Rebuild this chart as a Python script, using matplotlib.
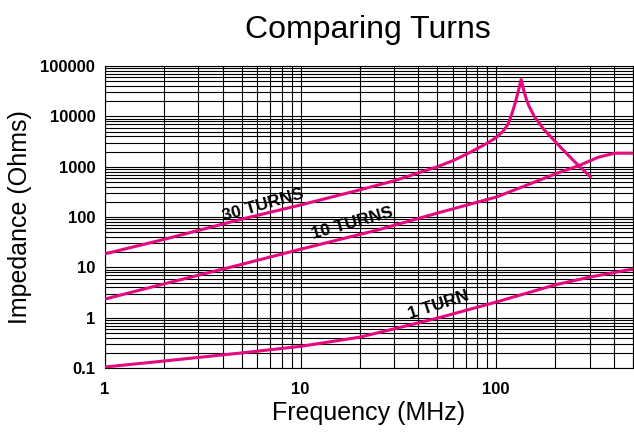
import numpy as np
import matplotlib.pyplot as plt
from matplotlib.ticker import FixedLocator, LogLocator, NullFormatter

plt.rcParams['font.family'] = ['Liberation Sans', 'DejaVu Sans']

# impedance curves (frequency in MHz, impedance in ohms)
f_30 = [1, 2, 5, 10, 20, 30, 50, 60, 70, 80, 90, 100, 108, 115, 120, 125,
        130, 134, 138, 142, 147, 157, 176, 208, 252, 303]
z_30 = [18.6, 36, 91, 174, 346, 525, 1000, 1320, 1750, 2300, 2950, 3800,
        5000, 7000, 11000, 18600, 33000, 54000, 34000, 23000, 16000, 9800,
        5400, 2700, 1250, 630]

f_10 = [1, 2, 5, 10, 20, 25, 50, 100, 170, 200, 264, 333, 403, 500]
z_10 = [2.35, 4.7, 11.5, 23, 45, 56, 120, 250, 560, 720, 1050, 1550, 1860, 1860]

f_1 = [1, 2, 5, 10, 20, 30, 50, 100, 200, 300, 500]
z_1 = [0.105, 0.138, 0.2, 0.27, 0.41, 0.6, 0.98, 2.05, 4.5, 6.4, 9.3]

curve_labels = ['30 TURNS', '10 TURNS', '1 TURN']
label_f = [6.4, 18.3, 50.5]
label_z = [174, 76, 1.75]
label_rot = [16, 15.6, 18]

x_ticks = [1, 10, 100]
y_ticks = [0.1, 1, 10, 100, 1000, 10000, 100000]

pink = '#E5097F'

fig = plt.figure(figsize=(6.34, 4.32), dpi=100)
ax = fig.add_axes([0.1656, 0.148, 0.8328, 0.699])

for f, z in [(f_30, z_30), (f_10, z_10), (f_1, z_1)]:
    ax.plot(f, z, color=pink, lw=2.2, solid_joinstyle='round', zorder=3)

for txt, fx, zy, rot in zip(curve_labels, label_f, label_z, label_rot):
    ax.text(fx, zy, txt, rotation=rot, rotation_mode='anchor',
            ha='center', va='center', fontsize=12.5, fontweight='bold', zorder=4)

ax.set_xscale('log')
ax.set_yscale('log')
ax.set_xlim(1, 500)
ax.set_ylim(0.1, 100000)

ax.xaxis.set_major_locator(FixedLocator(x_ticks))
ax.yaxis.set_major_locator(FixedLocator(y_ticks))
ax.set_xticklabels([str(v) for v in x_ticks])
ax.set_yticklabels(['0.1'] + [str(int(v)) for v in y_ticks[1:]])
ax.xaxis.set_minor_locator(LogLocator(base=10, subs=np.arange(2, 10), numticks=20))
ax.yaxis.set_minor_locator(LogLocator(base=10, subs=np.arange(2, 10), numticks=20))
ax.xaxis.set_minor_formatter(NullFormatter())
ax.yaxis.set_minor_formatter(NullFormatter())

ax.grid(True, which='both', color='black', lw=0.8)
ax.tick_params(which='both', length=0)
ax.tick_params(axis='x', pad=10, labelsize=12)
ax.tick_params(axis='y', pad=7, labelsize=12)
for lab in ax.get_xticklabels() + ax.get_yticklabels():
    lab.set_fontweight('bold')
for s in ax.spines.values():
    s.set_color('black')
    s.set_linewidth(0.8)

ax.set_xlabel('Frequency (MHz)', fontsize=18, labelpad=3)
ax.set_ylabel('Impedance (Ohms)', fontsize=18, labelpad=6)
fig.text(0.58, 0.93, 'Comparing Turns', fontsize=23, ha='center', va='center')

fig.savefig('out.png', dpi=100)
